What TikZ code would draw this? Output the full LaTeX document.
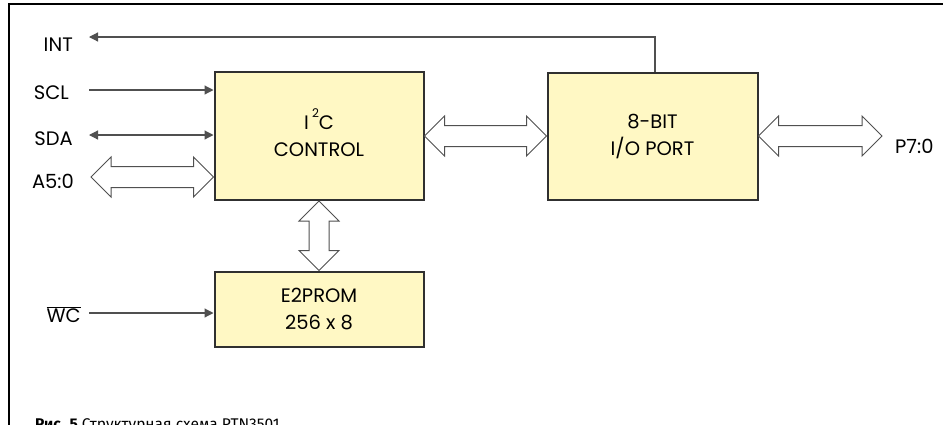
\documentclass[tikz,border=0pt]{standalone}
\usepackage{fontspec}
\setmainfont{Poppins}
\newfontfamily\capfont{Fira Sans}
\usetikzlibrary{arrows.meta,calc}

\definecolor{boxfill}{HTML}{FFF8C4}
\definecolor{boxline}{HTML}{303030}
\definecolor{wire}{HTML}{505050}

% horizontal double-headed bus arrow between two points
\newcommand\busH[2]{%
  \path[bus] let \p1=(#1), \p2=(#2) in
    (\x1,\y1) -- (\x1+20pt,\y1+20pt) -- (\x1+20pt,\y1+10.5pt)
    -- (\x2-20pt,\y1+10.5pt) -- (\x2-20pt,\y1+20pt) -- (\x2,\y1)
    -- (\x2-20pt,\y1-20pt) -- (\x2-20pt,\y1-10.5pt)
    -- (\x1+20pt,\y1-10.5pt) -- (\x1+20pt,\y1-20pt) -- cycle;}
% vertical double-headed bus arrow (first point above the second)
\newcommand\busV[2]{%
  \path[bus] let \p1=(#1), \p2=(#2) in
    (\x1,\y1) -- (\x1+20pt,\y1-20pt) -- (\x1+10pt,\y1-20pt)
    -- (\x1+10pt,\y2+20pt) -- (\x1+20pt,\y2+20pt) -- (\x1,\y2)
    -- (\x1-20pt,\y2+20pt) -- (\x1-10pt,\y2+20pt)
    -- (\x1-10pt,\y1-20pt) -- (\x1-20pt,\y1-20pt) -- cycle;}

\begin{document}
\begin{tikzpicture}[x=1pt,y=-1pt,
  block/.style={draw=boxline,line width=2pt,fill=boxfill,align=center,
    font=\fontsize{19.5}{27}\selectfont,inner sep=0pt},
  sig/.style={font=\fontsize{19.5}{24}\selectfont,inner sep=0pt},
  wire/.style={draw=wire,line width=1.2pt},
  tip/.style={-{Triangle[length=9pt,width=9pt]}},
  bus/.style={draw=wire,line width=1pt,fill=white,line join=miter}]

\useasboundingbox (0,0) rectangle (943,424);
\clip (0,0) rectangle (943,424);

% outer frame
\draw[line width=2pt] (9,460) -- (9,4) -- (960,4);

% blocks
\node[block,minimum width=209pt,minimum height=128pt] (ctrl) at (319,136)
  {I\,\smash{\raisebox{12pt}{\fontsize{12}{12}\selectfont 2}}C\\CONTROL};
\node[block,minimum width=210pt,minimum height=127pt] (io) at (652.5,136)
  {8-BIT\\I/O PORT};
\node[block,minimum width=209pt,minimum height=75pt] (eep) at (319,309)
  {E2PROM\\256 x 8};

% pin labels
\node[sig,anchor=base east] (int) at (73,51) {INT};
\node[sig,anchor=base east] (scl) at (69,99) {SCL};
\node[sig,anchor=base east] (sda) at (73,145) {SDA};
\node[sig,anchor=base east] (a50) at (74,188) {A5:0};
\node[sig,anchor=base east] (wc)  at (81,322) {$\overline{\hbox{WC}}$};
\node[sig,anchor=base west] (p70) at (895,153) {P7:0};

% line end points
\coordinate (intEnd) at (89,37);
\coordinate (intTurn) at (655,37);
\coordinate (sclS) at (89,90);
\coordinate (sdaS) at (89,135);
\coordinate (a50S) at (91,177);
\coordinate (wcS)  at (89,313);
\coordinate (p70E) at (882,136);

% single signals
\draw[wire,tip] (io.north -| intTurn) -- (intTurn) -- (intEnd);
\draw[wire,tip] (sclS) -- (ctrl.west |- sclS);
\draw[wire,{Triangle[length=9pt,width=9pt]}-{Triangle[length=9pt,width=9pt]}]
  (sdaS) -- (ctrl.west |- sdaS);
\draw[wire,tip] (wcS) -- (eep.west |- wcS);

% buses
\busH{a50S}{ctrl.west |- a50S}
\busH{ctrl.east}{io.west}
\busH{io.east}{p70E}
\busV{ctrl.south}{eep.north}

% caption
\node[anchor=base west,inner sep=0pt,font=\capfont\fontsize{15.5}{18}\selectfont]
  (cap) at (35,429) {\textbf{Рис. 5} Структурная схема PTN3501};
\end{tikzpicture}
\end{document}
